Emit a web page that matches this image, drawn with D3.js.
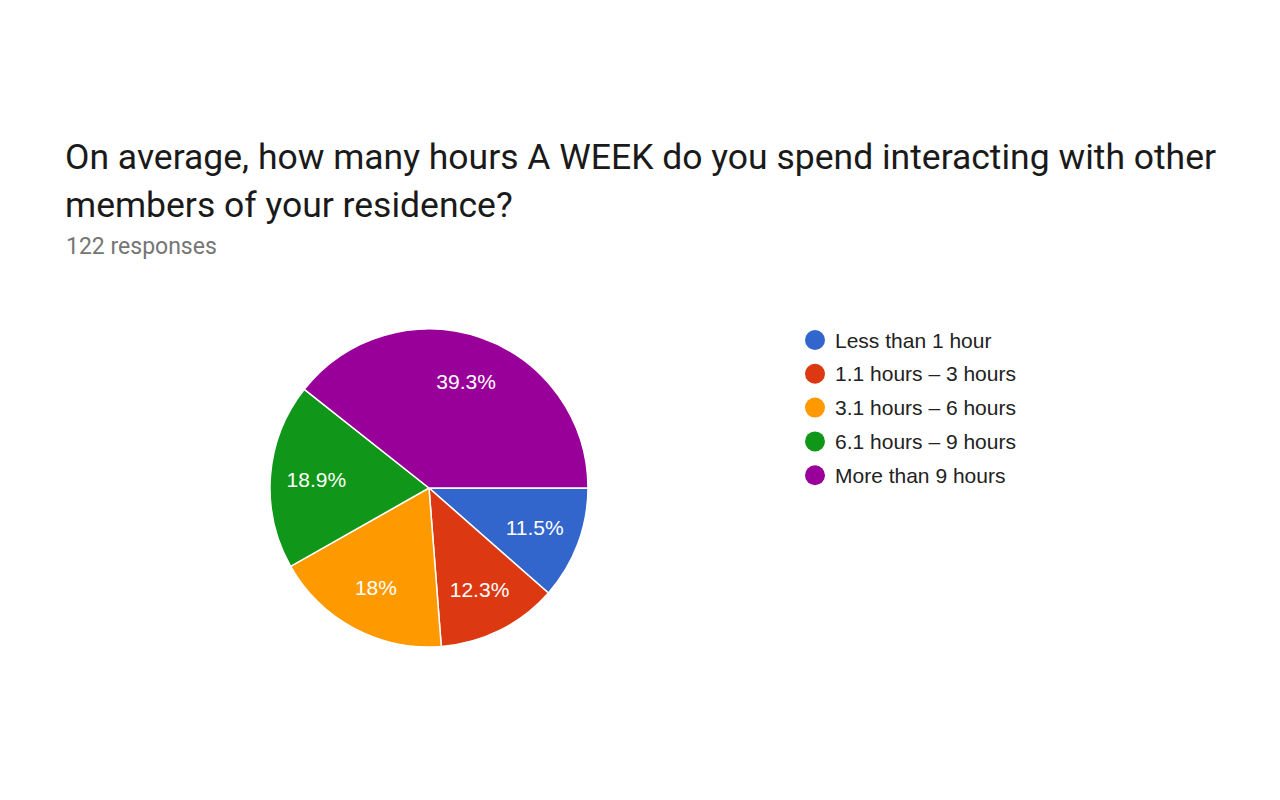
<!DOCTYPE html>
<html><head><meta charset="utf-8">
<script src="https://cdn.jsdelivr.net/npm/d3@7"></script>
<style>html,body{margin:0;padding:0;background:#fff;}</style>
</head><body>
<svg id="chart" width="1280" height="800"></svg>
<script>
const categories = ["Less than 1 hour","1.1 hours \u2013 3 hours","3.1 hours \u2013 6 hours","6.1 hours \u2013 9 hours","More than 9 hours"];
const counts = [14, 15, 22, 23, 48];
const percentLabels = ["11.5%","12.3%","18%","18.9%","39.3%"];
const colors = ["#3366cc","#dc3912","#ff9900","#109618","#990099"];
const titleLines = ["On average, how many hours A WEEK do you spend interacting with other","members of your residence?"];
const subtitle = "122 responses";

const svg = d3.select("#chart");
svg.append("rect").attr("width",1280).attr("height",800).attr("fill","#fff");

svg.selectAll("text.title").data(titleLines).join("text")
  .attr("class","title").attr("x",65).attr("y",(d,i)=>169+i*48)
  .attr("font-family","Roboto").attr("font-size",35.5).attr("fill","#1a1a1a").text(d=>d);
svg.append("text").attr("x",66).attr("y",254).attr("font-family","Roboto")
  .attr("font-size",23).attr("fill","#757575").text(subtitle);

const cx=429, cy=488, r=159;
const pie = d3.pie().sort(null).value(d=>d).startAngle(Math.PI/2).endAngle(Math.PI/2+2*Math.PI);
const arcs = pie(counts);
const arc = d3.arc().innerRadius(0).outerRadius(r);
const labelArc = d3.arc().innerRadius(113).outerRadius(113);
const g = svg.append("g").attr("transform",`translate(${cx},${cy})`);
g.selectAll("path").data(arcs).join("path").attr("d",arc)
  .attr("fill",(d,i)=>colors[i]).attr("stroke","#fff").attr("stroke-width",1.5);
g.selectAll("text").data(arcs).join("text")
  .attr("transform",d=>`translate(${labelArc.centroid(d)})`)
  .attr("text-anchor","middle").attr("dominant-baseline","central")
  .attr("font-family","Liberation Sans, Arial").attr("font-size",21).attr("fill","#fff")
  .text((d,i)=>percentLabels[i]);

const legend = svg.append("g");
const rows = legend.selectAll("g").data(categories).join("g")
  .attr("transform",(d,i)=>`translate(815,${340+i*33.8})`);
rows.append("circle").attr("r",10).attr("fill",(d,i)=>colors[i]);
rows.append("text").attr("x",20).attr("dominant-baseline","central")
  .attr("font-family","Liberation Sans, Arial").attr("font-size",21).attr("fill","#222").text(d=>d);
</script>
</body></html>
